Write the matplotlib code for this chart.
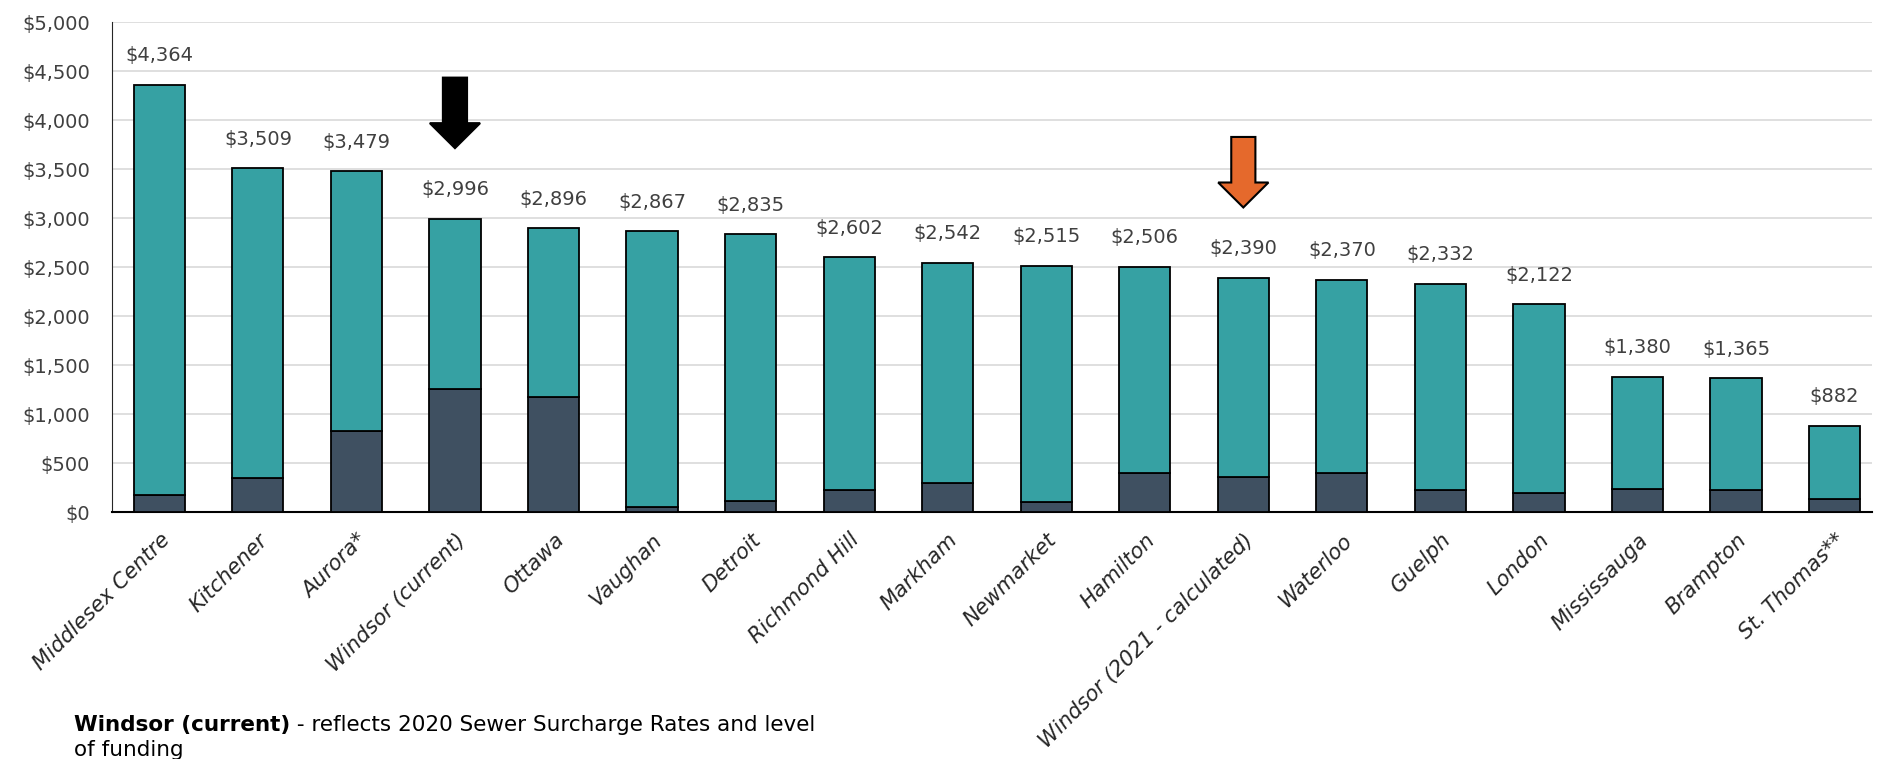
import numpy as np
import matplotlib
matplotlib.use("Agg")
import matplotlib.pyplot as plt
from matplotlib.patches import FancyArrow
from matplotlib.ticker import FuncFormatter

cities = ["Middlesex Centre", "Kitchener", "Aurora*", "Windsor (current)", "Ottawa",
          "Vaughan", "Detroit", "Richmond Hill", "Markham", "Newmarket", "Hamilton",
          "Windsor (2021 - calculated)", "Waterloo", "Guelph", "London", "Mississauga",
          "Brampton", "St. Thomas**"]
totals = [4364, 3509, 3479, 2996, 2896, 2867, 2835, 2602, 2542, 2515, 2506,
          2390, 2370, 2332, 2122, 1380, 1365, 882]
base = [175, 350, 825, 1260, 1170, 55, 115, 220, 300, 100, 400,
        360, 400, 220, 195, 240, 220, 135]

teal = "#36A1A3"
slate = "#3F5061"
txt = "#404040"

x = np.arange(len(cities))
upper = np.array(totals) - np.array(base)

fig = plt.figure(figsize=(18.86, 7.59), dpi=100)
ax = fig.add_axes([0.0594, 0.3254, 0.9332, 0.6451])

ax.bar(x, base, width=0.52, color=slate, edgecolor="black", linewidth=1.3, zorder=3)
ax.bar(x, upper, bottom=base, width=0.52, color=teal, edgecolor="black", linewidth=1.3, zorder=3)

for i, t in enumerate(totals):
    ax.annotate(f"${t:,}", (x[i], t), xytext=(0, 21), textcoords="offset points",
                ha="center", va="center", fontsize=14, color=txt)

ax.set_xlim(-0.48, 17.38)
ax.set_ylim(0, 5000)
ax.set_yticks(np.arange(0, 5001, 500))
ax.yaxis.set_major_formatter(FuncFormatter(lambda v, p: f"${int(v):,}"))
ax.tick_params(axis="y", length=0, labelsize=14, labelcolor=txt, pad=16)
ax.tick_params(axis="x", length=0)
ax.set_xticks(x)
ax.set_xticklabels(cities, rotation=45, ha="right", va="top", rotation_mode="anchor",
                   fontsize=15.2, style="italic", color="#262626")
for lab in ax.get_xticklabels():
    lab.set_transform(lab.get_transform() + matplotlib.transforms.ScaledTranslation(0, -13/100, fig.dpi_scale_trans))

ax.grid(axis="y", color="#D9D9D9", linewidth=1.2, zorder=0)
ax.set_axisbelow(True)
for s in ["top", "right"]:
    ax.spines[s].set_visible(False)
ax.spines["left"].set_color("#262626")
ax.spines["bottom"].set_color("black")
ax.spines["bottom"].set_linewidth(1.5)

# arrows pointing at the two Windsor bars
arrow_specs = [(3, "black"), (11, "#E5692C")]
for idx, col in arrow_specs:
    tip = totals[idx] + 720
    arr = FancyArrow(x[idx], tip + 720, 0, -720, width=0.245, head_width=0.51,
                     head_length=255, length_includes_head=True,
                     facecolor=col, edgecolor="black", linewidth=1.5, zorder=5)
    ax.add_patch(arr)

# footnote
t1 = fig.text(74/1886, 1 - 725/759, "Windsor (current)", fontsize=15.5, fontweight="bold",
              color="black", va="center")
fig.canvas.draw()
bb = t1.get_window_extent()
fig.text(bb.x1 / fig.bbox.width, 1 - 725/759,
         " - reflects 2020 Sewer Surcharge Rates and level", fontsize=15.5, color="black", va="center")
fig.text(74/1886, 1 - 750/759, "of funding", fontsize=15.5, color="black", va="center")

fig.savefig("out.png", dpi=100)
